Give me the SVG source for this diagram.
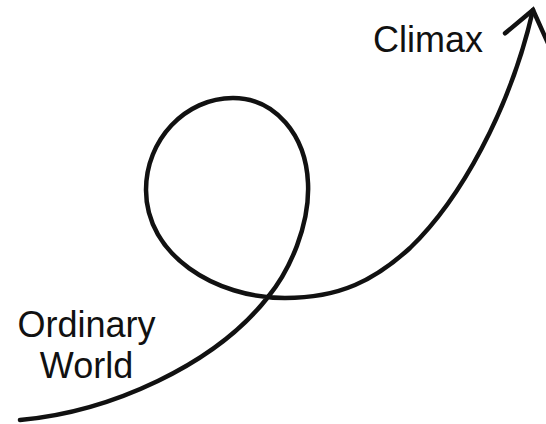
<svg xmlns="http://www.w3.org/2000/svg" width="546" height="424" viewBox="0 0 546 424">
  <style>
    .label { font-family: "Liberation Sans", Arial, sans-serif; font-size: 36px; fill: #111; }
    .arc { fill: none; stroke: #111; stroke-width: 4.5; stroke-linecap: round; stroke-linejoin: round; }
  </style>
  <defs>
    <marker id="chevron" markerUnits="userSpaceOnUse" markerWidth="60" markerHeight="60" refX="0" refY="0" orient="auto" overflow="visible">
      <path d="M-29,-22 L0,0 L-29,22" fill="none" stroke="#111" stroke-width="4.5" stroke-linecap="round" stroke-linejoin="miter"/>
    </marker>
  </defs>
  <rect width="546" height="424" fill="#fff"/>
  <g id="connectors">
    <path class="arc" marker-end="url(#chevron)" d="M20,420 C110,412 215,365 268,297 C290,270 310,225 308,183 C306,135 275,98 233,98 C185,98 146,140 146,190 C146,255 215,298 285,298 C340,298 375,280 410,248 C460,200 510,110 533,10"/>
  </g>
  <g id="ordinary-world">
    <text class="label" x="86.5" y="337" text-anchor="middle">Ordinary</text>
    <text class="label" x="86.5" y="378" text-anchor="middle">World</text>
  </g>
  <g id="climax">
    <text class="label" x="373" y="52">Climax</text>
  </g>
</svg>
